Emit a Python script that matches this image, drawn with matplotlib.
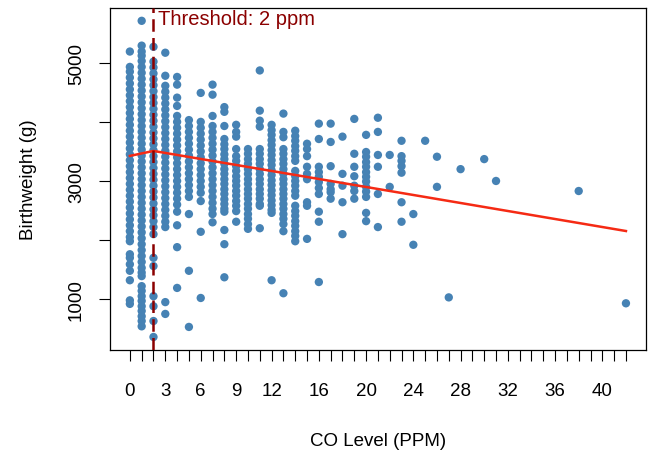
import matplotlib
matplotlib.use("Agg")
import matplotlib.pyplot as plt
import numpy as np

plt.rcParams["font.family"] = ["Liberation Sans", "DejaVu Sans"]

bw_co0 = [5190, 4930, 4850, 4750, 4650, 4550, 4450, 4350, 4250, 4150, 4050, 3950,
          3850, 3750, 3650, 3550, 3450, 3350, 3250, 3150, 3050, 2950, 2850, 2750,
          2650, 2550, 2450, 2350, 2250, 2150, 2050, 1980, 1760, 1700, 1590, 1480,
          1320, 980, 920]
bw_co1 = [5710, 5290, 5190, 5120, 5030, 4930, 4830, 4730, 4630, 4530, 4430, 4330,
          4230, 4130, 4030, 3930, 3830, 3730, 3630, 3530, 3430, 3330, 3230, 3130,
          3030, 2930, 2830, 2730, 2630, 2530, 2430, 2330, 2230, 2130, 2030, 1930,
          1830, 1730, 1630, 1530, 1450, 1390, 1220, 1140, 1050, 970, 880, 800, 710,
          630, 540]
bw_co2 = [5270, 5020, 4920, 4820, 4720, 4620, 4520, 4420, 4320, 4220, 4120, 4020,
          3920, 3820, 3720, 3620, 3520, 3420, 3320, 3220, 3120, 3020, 2920, 2820,
          2720, 2620, 2520, 2420, 2320, 2220, 2100, 1700, 1560, 1050, 880, 630, 360]
bw_co3 = [5170, 4780, 4610, 4510, 4410, 4310, 4210, 4110, 4010, 3910, 3810, 3710,
          3610, 3510, 3410, 3310, 3210, 3110, 3010, 2910, 2810, 2710, 2610, 2510,
          2410, 2310, 2220, 950, 750]
bw_co4 = [4760, 4630, 4410, 4270, 4100, 4000, 3900, 3800, 3700, 3600, 3500, 3400,
          3300, 3200, 3100, 3000, 2900, 2800, 2700, 2600, 2480, 2250, 1880, 1190]
bw_co5 = [4030, 3930, 3830, 3730, 3630, 3530, 3430, 3330, 3230, 3130, 3030, 2930,
          2830, 2730, 2440, 1480, 530]
bw_co6 = [4490, 4000, 3900, 3800, 3700, 3600, 3500, 3400, 3300, 3200, 3100, 3000,
          2900, 2800, 2660, 2140, 1020]
bw_co7 = [4630, 4460, 4100, 3930, 3830, 3730, 3630, 3530, 3430, 3330, 3230, 3130,
          3030, 2930, 2830, 2730, 2630, 2530, 2440, 2300]
bw_co8 = [4250, 4170, 3930, 3710, 3620, 3540, 3450, 3370, 3290, 3200, 3120, 3030,
          2950, 2860, 2780, 2690, 2610, 2530, 2480, 2170, 1930, 1370]
bw_co9 = [3950, 3830, 3750, 3540, 3420, 3340, 3250, 3170, 3080, 3000, 2920, 2830,
          2750, 2660, 2580, 2490, 2310]
bw_co10 = [3540, 3460, 3370, 3290, 3200, 3120, 3030, 2950, 2860, 2780, 2700, 2610,
           2530, 2440, 2360, 2270, 2190]
bw_co11 = [4870, 4190, 4020, 3920, 3540, 3460, 3370, 3290, 3200, 3120, 3030, 2950,
           2860, 2780, 2700, 2610, 2580, 2200]
bw_co12 = [3950, 3860, 3780, 3690, 3610, 3520, 3440, 3350, 3270, 3180, 3100, 3010,
           2930, 2840, 2760, 2670, 2590, 2510, 2460, 1320]
bw_co13 = [4140, 3830, 3740, 3540, 3460, 3370, 3290, 3200, 3120, 3030, 2950, 2860,
           2780, 2700, 2610, 2530, 2440, 2360, 2270, 2150, 1100]
bw_co14 = [3850, 3760, 3680, 3590, 3510, 3420, 3340, 3170, 3080, 3000, 2920, 2830,
           2750, 2580, 2490, 2410, 2320, 2240, 2150, 2070, 1980]
bw_co15 = [3630, 3540, 3420, 3240, 3120, 3030, 2640, 2580, 2020]
bw_co16 = [3970, 3710, 3240, 3150, 3070, 2980, 2880, 2780, 2480, 2310, 1290]
bw_co17 = [3970, 3660, 3250, 2950, 2860, 2810, 2700]
bw_co18 = [3750, 3120, 2920, 2640, 2100]
bw_co19 = [4050, 3460, 3240, 3080, 2920, 2830, 2700]
bw_co20 = [3780, 3490, 3410, 3320, 3240, 3150, 3070, 2990, 2900, 2820, 2730, 2460, 2320]
bw_co21 = [4070, 3830, 3440, 3240, 2780, 2220]
bw_co22 = [3440, 2900]
bw_co23 = [3680, 3420, 3340, 3250, 3140, 2640, 2310]
bw_co24 = [2440, 1920]
bw_co25 = [3680]
bw_co26 = [3410, 2900]
bw_co27 = [1030]
bw_co28 = [3200]
bw_co30 = [3370]
bw_co31 = [3000]
bw_co38 = [2830]
bw_co42 = [930]

co_levels = [0, 1, 2, 3, 4, 5, 6, 7, 8, 9, 10, 11, 12, 13, 14, 15, 16, 17, 18, 19,
             20, 21, 22, 23, 24, 25, 26, 27, 28, 30, 31, 38, 42]
bw_groups = [bw_co0, bw_co1, bw_co2, bw_co3, bw_co4, bw_co5, bw_co6, bw_co7, bw_co8,
             bw_co9, bw_co10, bw_co11, bw_co12, bw_co13, bw_co14, bw_co15, bw_co16,
             bw_co17, bw_co18, bw_co19, bw_co20, bw_co21, bw_co22, bw_co23, bw_co24,
             bw_co25, bw_co26, bw_co27, bw_co28, bw_co30, bw_co31, bw_co38, bw_co42]

# segmented fit with break at the threshold
fit_x = [0, 2, 42]
fit_y = [3424, 3508, 2153]
threshold = 2

xtick_labels = [0, 3, 6, 9, 12, 16, 20, 24, 28, 32, 36, 40]

co = np.concatenate([[c] * len(g) for c, g in zip(co_levels, bw_groups)])
bw = np.concatenate(bw_groups)

fig = plt.figure(figsize=(6.51, 4.52), dpi=100)
ax = fig.add_axes([0.169, 0.2235, 0.823, 0.757])

ax.scatter(co, bw, s=36, color="#4682B4", edgecolors="none", zorder=2)
ax.plot(fit_x, fit_y, color="#F52A14", lw=1.8, zorder=3)
ax.axvline(threshold, color="#8B0000", lw=1.8, ls=(0, (5, 2.5)), zorder=4)
ax.text(threshold + 0.35, 5750, "Threshold: 2 ppm", color="#8B0000",
        fontsize=14.5, va="center", ha="left")

ax.set_xlim(-1.68, 43.68)
ax.set_ylim(140, 5930)

ticks = np.arange(0, 43)
ax.set_xticks(ticks)
ax.set_xticklabels([str(t) if t in xtick_labels else "" for t in ticks])
ax.set_yticks([1000, 2000, 3000, 4000, 5000])
ax.set_yticklabels(["1000", "", "3000", "", "5000"], rotation=90, va="center")

ax.tick_params(axis="both", direction="out", length=8, width=0.8, labelsize=13.5)
ax.tick_params(axis="x", pad=15)
ax.tick_params(axis="y", pad=10)
for sp in ax.spines.values():
    sp.set_linewidth(0.9)

ax.set_xlabel("CO Level (PPM)", fontsize=13.5, labelpad=24)
ax.set_ylabel("Birthweight (g)", fontsize=13.5, labelpad=22)

fig.savefig("out.png", dpi=100)
